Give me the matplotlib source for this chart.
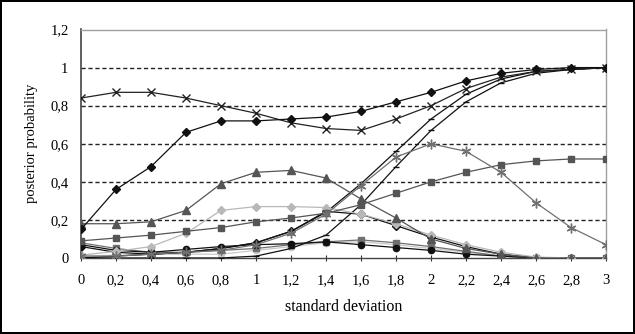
import numpy as np
import matplotlib
matplotlib.use("Agg")
from matplotlib import pyplot as plt
from matplotlib.ticker import FixedLocator

plt.rcParams['font.family'] = ['Liberation Serif', 'DejaVu Serif']

# standard deviation steps
x_vals = [0, 0.2, 0.4, 0.6, 0.8, 1.0, 1.2, 1.4, 1.6, 1.8, 2.0, 2.2, 2.4, 2.6, 2.8, 3.0]
x_labels = ["0", "0,2", "0,4", "0,6", "0,8", "1", "1,2", "1,4", "1,6", "1,8",
            "2", "2,2", "2,4", "2,6", "2,8", "3"]
y_ticks = [0, 0.2, 0.4, 0.6, 0.8, 1.0, 1.2]
y_labels = ["0", "0,2", "0,4", "0,6", "0,8", "1", "1,2"]

# posterior probabilities
diamond_top = [0.15, 0.36, 0.48, 0.66, 0.72, 0.72, 0.73, 0.74, 0.77, 0.82, 0.87, 0.93, 0.97, 0.99, 1.0, 1.0]
cross_top = [0.84, 0.87, 0.87, 0.84, 0.80, 0.76, 0.71, 0.68, 0.67, 0.73, 0.80, 0.89, 0.95, 0.98, 0.99, 1.0]
triangle = [0.18, 0.18, 0.19, 0.25, 0.39, 0.45, 0.46, 0.42, 0.31, 0.21, 0.10, 0.05, 0.02, 0.0, 0.0, 0.0]
square_up = [0.09, 0.105, 0.12, 0.14, 0.16, 0.19, 0.21, 0.235, 0.28, 0.34, 0.40, 0.45, 0.49, 0.51, 0.52, 0.52]
light_diamond = [0.015, 0.035, 0.06, 0.13, 0.25, 0.27, 0.27, 0.265, 0.23, 0.18, 0.12, 0.07, 0.03, 0.005, 0.0, 0.0]
star = [0.01, 0.01, 0.02, 0.03, 0.04, 0.07, 0.13, 0.23, 0.38, 0.53, 0.60, 0.56, 0.45, 0.29, 0.16, 0.07]
dash_fast = [0.0, 0.01, 0.02, 0.03, 0.05, 0.08, 0.14, 0.24, 0.39, 0.56, 0.73, 0.86, 0.94, 0.98, 0.99, 1.0]
dash_slow = [0.0, 0.0, 0.0, 0.0, 0.0, 0.01, 0.05, 0.12, 0.28, 0.48, 0.67, 0.82, 0.92, 0.97, 0.99, 1.0]
diamond_low = [0.06, 0.03, 0.02, 0.03, 0.05, 0.08, 0.14, 0.245, 0.23, 0.17, 0.11, 0.06, 0.02, 0.0, 0.0, 0.0]
square_low = [0.08, 0.05, 0.03, 0.03, 0.04, 0.05, 0.07, 0.085, 0.095, 0.08, 0.06, 0.035, 0.01, 0.0, 0.0, 0.0]
circle = [0.07, 0.04, 0.03, 0.045, 0.06, 0.07, 0.075, 0.085, 0.07, 0.055, 0.04, 0.02, 0.01, 0.0, 0.0, 0.0]
light_circle = [0.01, 0.015, 0.02, 0.02, 0.02, 0.04, 0.06, 0.08, 0.085, 0.07, 0.05, 0.03, 0.01, 0.0, 0.0, 0.0]

fig = plt.figure(figsize=(6.35, 3.34), dpi=100)
fig.patch.set_edgecolor("black")
fig.patch.set_linewidth(1.5)
ax = fig.add_axes([81 / 635, 1 - 258 / 334, (606 - 81) / 635, (258 - 29.5) / 334])

# grid first so lines sit above it
for v in y_ticks[1:-1]:
    ax.axhline(v, color="#222222", lw=1.0, ls=(0, (3, 2)), zorder=1)

series = [
    (light_circle, "#c8c8c8", "o", 4.5, "#c8c8c8"),
    (square_low, "#707070", "s", 5, "#707070"),
    (circle, "#111111", "o", 4.5, "#111111"),
    (diamond_low, "#111111", "D", 4, "#111111"),
    (dash_slow, "#111111", "_", 5, "#111111"),
    (dash_fast, "#111111", "_", 5, "#111111"),
    (light_diamond, "#b8b8b8", "D", 4.5, "#b8b8b8"),
    (square_up, "#555555", "s", 5, "#555555"),
    (triangle, "#555555", "^", 5.5, "#555555"),
    (star, "#707070", (6, 2, 0), 7, "#707070"),
    (cross_top, "#222222", "x", 6, "#222222"),
    (diamond_top, "#111111", "D", 4.5, "#111111"),
]
for vals, col, mk, ms, lc in series:
    ax.plot(x_vals, vals, color=lc, lw=0.9, marker=mk, ms=ms,
            markerfacecolor=col, markeredgecolor=col, markeredgewidth=1.0, zorder=3)

ax.set_xlim(0, 3)
ax.set_ylim(0, 1.2)
ax.xaxis.set_major_locator(FixedLocator(x_vals))
ax.set_xticklabels(x_labels)
ax.yaxis.set_major_locator(FixedLocator(y_ticks))
ax.set_yticklabels(y_labels)
ax.tick_params(axis="x", direction="inout", length=5, width=0.8, color="#333333",
               labelsize=10.5, pad=9)
ax.tick_params(axis="y", length=0, labelsize=10.5, pad=9)

for side in ["top", "right"]:
    ax.spines[side].set_color("#a0a0a0")
    ax.spines[side].set_linewidth(1.0)
ax.spines["left"].set_color("#444444")
ax.spines["left"].set_linewidth(1.2)
ax.spines["bottom"].set_color("#444444")
ax.spines["bottom"].set_linewidth(1.0)

ax.set_xlabel("standard deviation", fontsize=11.5, labelpad=9)
ax.set_ylabel("posterior probability", fontsize=10.5, labelpad=9)

fig.savefig("out.png", dpi=100)
